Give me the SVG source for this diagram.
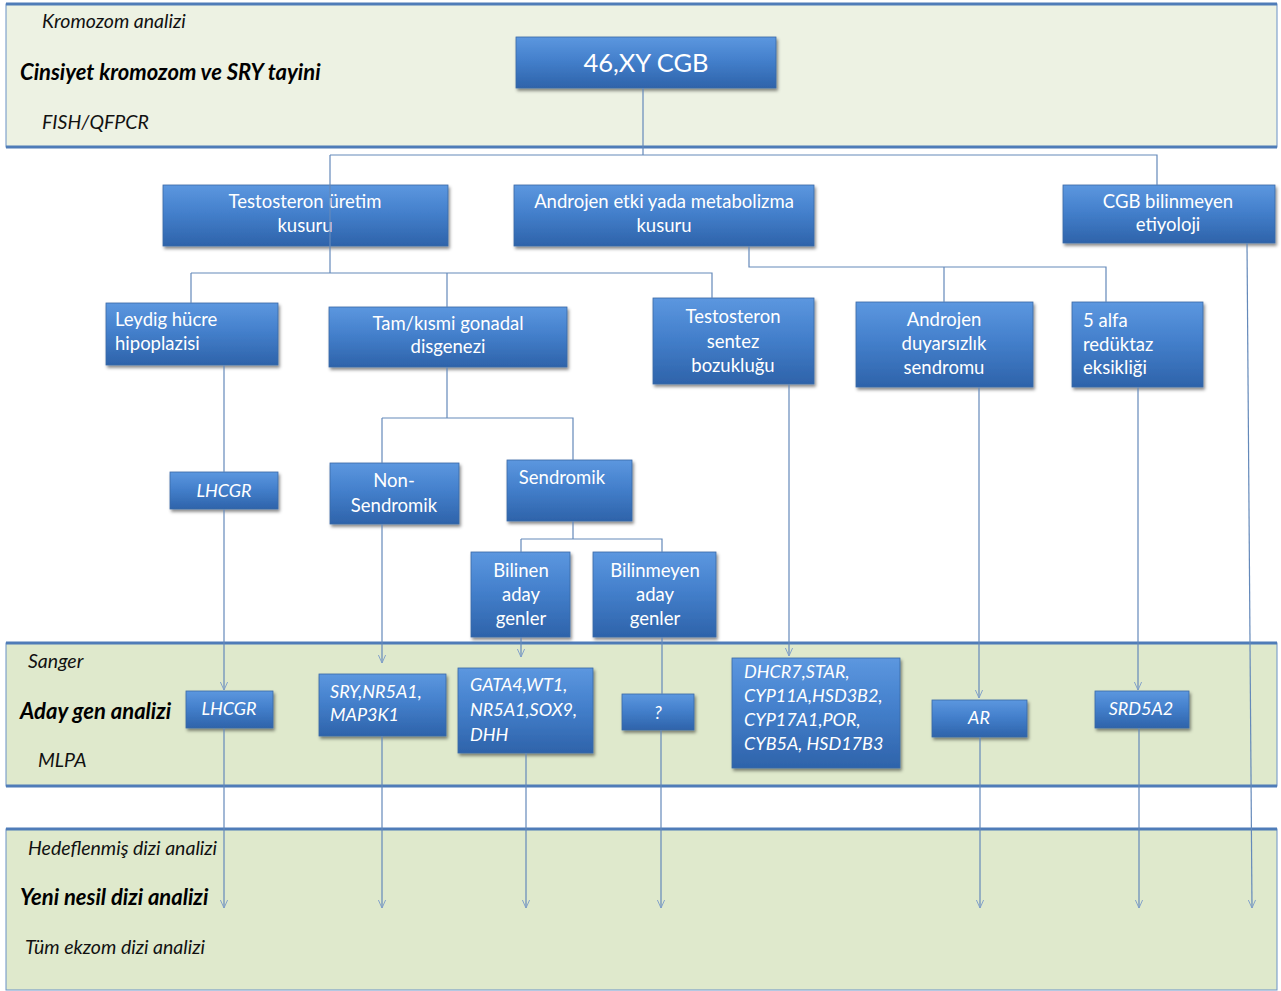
<svg xmlns="http://www.w3.org/2000/svg" width="1281" height="991" viewBox="0 0 1281 991">
<defs>
<linearGradient id="bg" x1="0" y1="0" x2="0" y2="1">
<stop offset="0" stop-color="#5c97df"/>
<stop offset="0.45" stop-color="#4480cc"/>
<stop offset="1" stop-color="#2e63aa"/>
</linearGradient>
<filter id="sh" x="-10%" y="-10%" width="130%" height="140%">
<feDropShadow dx="1.5" dy="2.5" stdDeviation="1.8" flood-color="#000" flood-opacity="0.45"/>
</filter>
<marker id="ar" viewBox="0 0 10 10" refX="10" refY="5" markerWidth="10" markerHeight="8" markerUnits="userSpaceOnUse" orient="auto">
<path d="M0,0.5 L10,5 L0,9.5" fill="none" stroke="#7f9fca" stroke-width="1.2"/>
</marker>
</defs>
<style>
.band{stroke:#6a92c6;stroke-width:1}
.edge{stroke:#4f7cb8;stroke-width:3}
.box{fill:url(#bg);stroke:#3a69a6;stroke-width:0.8;filter:url(#sh)}
.t{font-family:Lato,"Open Sans","Liberation Sans",sans-serif;fill:#fff;font-size:18.5px}
.c{text-anchor:middle}
.i{font-style:italic;font-size:18px}
.lab{font-family:Lato,"Open Sans","Liberation Sans",sans-serif;fill:#111;font-style:italic;font-size:19.5px}
.big{font-family:Lato,"Open Sans","Liberation Sans",sans-serif;fill:#000;font-style:italic;font-weight:bold;font-size:22px}
.cn{fill:none;stroke:#6489ba;stroke-width:1.2}
</style>
<rect width="1281" height="991" fill="#fff"/>
<g id="band-kromozom">
<rect class="band" x="6" y="4" width="1271" height="143" fill="#edf2e3"/>
<line class="edge" x1="6" y1="4" x2="1277" y2="4"/>
<line class="edge" x1="6" y1="147" x2="1277" y2="147"/>
<text class="lab" x="42" y="28">Kromozom analizi</text>
<text class="big" x="20" y="80">Cinsiyet kromozom ve SRY tayini</text>
<text class="lab" x="42" y="129">FISH/QFPCR</text>
</g>
<g id="band-aday">
<rect class="band" x="6" y="643" width="1271" height="143" fill="#dfe9cc"/>
<line class="edge" x1="6" y1="643" x2="1277" y2="643"/>
<line class="edge" x1="6" y1="786" x2="1277" y2="786"/>
<text class="lab" x="28" y="668">Sanger</text>
<text class="big" x="20" y="719">Aday gen analizi</text>
<text class="lab" x="38" y="767">MLPA</text>
</g>
<g id="band-yeni">
<rect class="band" x="6" y="829" width="1271" height="161" fill="#dfe9cc"/>
<line class="edge" x1="6" y1="829" x2="1277" y2="829"/>
<text class="lab" x="28" y="855">Hedeflenmiş dizi analizi</text>
<text class="big" x="20" y="905">Yeni nesil dizi analizi</text>
<text class="lab" x="25" y="954">Tüm ekzom dizi analizi</text>
</g>

<g id="n-46xy"><rect class="box" x="516" y="37" width="260" height="51"/><text class="t c" x="646" y="72" style="font-size:25.5px">46,XY CGB</text></g>
<g id="n-testuretim"><rect class="box" x="163" y="185" width="285" height="61"/><text class="t c" x="305" y="208">Testosteron  üretim</text><text class="t c" x="305" y="232">kusuru</text></g>
<g id="n-androjenetki"><rect class="box" x="514" y="185" width="300" height="61"/><text class="t c" x="664" y="208">Androjen etki yada metabolizma</text><text class="t c" x="664" y="232">kusuru</text></g>
<g id="n-cgbbilinmeyen"><rect class="box" x="1063" y="185" width="212" height="58"/><text class="t c" x="1168" y="208">CGB bilinmeyen</text><text class="t c" x="1168" y="231">etiyoloji</text></g>
<g id="n-leydig"><rect class="box" x="106" y="303" width="172" height="62"/><text class="t" x="115" y="326">Leydig hücre</text><text class="t" x="115" y="350">hipoplazisi</text></g>
<g id="n-gonadal"><rect class="box" x="329" y="307" width="238" height="60"/><text class="t c" x="448" y="330">Tam/kısmi gonadal</text><text class="t c" x="448" y="353">disgenezi</text></g>
<g id="n-sentez"><rect class="box" x="653" y="298" width="161" height="86"/><text class="t c" x="733" y="323">Testosteron</text><text class="t c" x="733" y="348">sentez</text><text class="t c" x="733" y="372">bozukluğu</text></g>
<g id="n-duyarsizlik"><rect class="box" x="856" y="302" width="177" height="85"/><text class="t c" x="944" y="326">Androjen</text><text class="t c" x="944" y="350">duyarsızlık</text><text class="t c" x="944" y="374">sendromu</text></g>
<g id="n-5alfa"><rect class="box" x="1072" y="302" width="131" height="85"/><text class="t" x="1083" y="327">5 alfa</text><text class="t" x="1083" y="351">redüktaz</text><text class="t" x="1083" y="374">eksikliği</text></g>
<g id="n-lhcgr1"><rect class="box" x="170" y="472" width="108" height="37"/><text class="t c i" x="224" y="497">LHCGR</text></g>
<g id="n-nonsendromik"><rect class="box" x="330" y="463" width="129" height="61"/><text class="t c" x="394" y="487">Non-</text><text class="t c" x="394" y="512">Sendromik</text></g>
<g id="n-sendromik"><rect class="box" x="507" y="460" width="125" height="61"/><text class="t c" x="562" y="484">Sendromik</text></g>
<g id="n-bilinen"><rect class="box" x="471" y="552" width="99" height="85"/><text class="t c" x="521" y="577">Bilinen</text><text class="t c" x="521" y="601">aday</text><text class="t c" x="521" y="625">genler</text></g>
<g id="n-bilinmeyen"><rect class="box" x="593" y="552" width="123" height="85"/><text class="t c" x="655" y="577">Bilinmeyen</text><text class="t c" x="655" y="601">aday</text><text class="t c" x="655" y="625">genler</text></g>
<g id="n-lhcgr2"><rect class="box" x="186" y="691" width="87" height="37"/><text class="t c i" x="229" y="715">LHCGR</text></g>
<g id="n-sry"><rect class="box" x="319" y="674" width="127" height="62"/><text class="t i" x="330" y="698">SRY,NR5A1,</text><text class="t i" x="330" y="721">MAP3K1</text></g>
<g id="n-gata4"><rect class="box" x="458" y="668" width="135" height="85"/><text class="t i" x="470" y="691">GATA4,WT1,</text><text class="t i" x="470" y="716">NR5A1,SOX9,</text><text class="t i" x="470" y="741">DHH</text></g>
<g id="n-q"><rect class="box" x="622" y="694" width="72" height="36"/><text class="t c i" x="658" y="719">?</text></g>
<g id="n-dhcr7"><rect class="box" x="732" y="658" width="168" height="110"/><text class="t i" x="744" y="678">DHCR7,STAR,</text><text class="t i" x="744" y="702">CYP11A,HSD3B2,</text><text class="t i" x="744" y="726">CYP17A1,POR,</text><text class="t i" x="744" y="750">CYB5A, HSD17B3</text></g>
<g id="n-ar"><rect class="box" x="932" y="700" width="95" height="37"/><text class="t c i" x="979" y="724">AR</text></g>
<g id="n-srd5a2"><rect class="box" x="1095" y="691" width="94" height="37"/><text class="t c i" x="1141" y="715">SRD5A2</text></g>

<g id="connectors">
<path class="cn" d="M643,88 V155"/>
<path class="cn" d="M330,155 H1157 V185"/>
<path class="cn" d="M330,155 V273"/>
<path class="cn" d="M191,273 H712 V298"/>
<path class="cn" d="M191,273 V303"/>
<path class="cn" d="M447,273 V307"/>
<path class="cn" d="M749,246 V267 H1106 V302"/>
<path class="cn" d="M944,267 V302"/>
<path class="cn" d="M447,367 V418"/>
<path class="cn" d="M382,418 H573 V460"/>
<path class="cn" d="M382,418 V463"/>
<path class="cn" d="M573,521 V539"/>
<path class="cn" d="M521,539 H662 V552"/>
<path class="cn" d="M521,539 V552"/>
<path class="cn" d="M224,365 V472"/>
<path class="cn" d="M224,509 V690" marker-end="url(#ar)"/>
<path class="cn" d="M382,524 V663" marker-end="url(#ar)"/>
<path class="cn" d="M521,637 V657" marker-end="url(#ar)"/>
<path class="cn" d="M662,637 V694"/>
<path class="cn" d="M789,384 V656" marker-end="url(#ar)"/>
<path class="cn" d="M979,387 V698" marker-end="url(#ar)"/>
<path class="cn" d="M1138,387 V690" marker-end="url(#ar)"/>
<path class="cn" d="M224,728 V908" marker-end="url(#ar)"/>
<path class="cn" d="M382,736 V908" marker-end="url(#ar)"/>
<path class="cn" d="M526,753 V908" marker-end="url(#ar)"/>
<path class="cn" d="M661,730 V908" marker-end="url(#ar)"/>
<path class="cn" d="M980,737 V908" marker-end="url(#ar)"/>
<path class="cn" d="M1139,728 V908" marker-end="url(#ar)"/>
<path class="cn" d="M1247,243 L1252,908" marker-end="url(#ar)"/>
</g>
</svg>
